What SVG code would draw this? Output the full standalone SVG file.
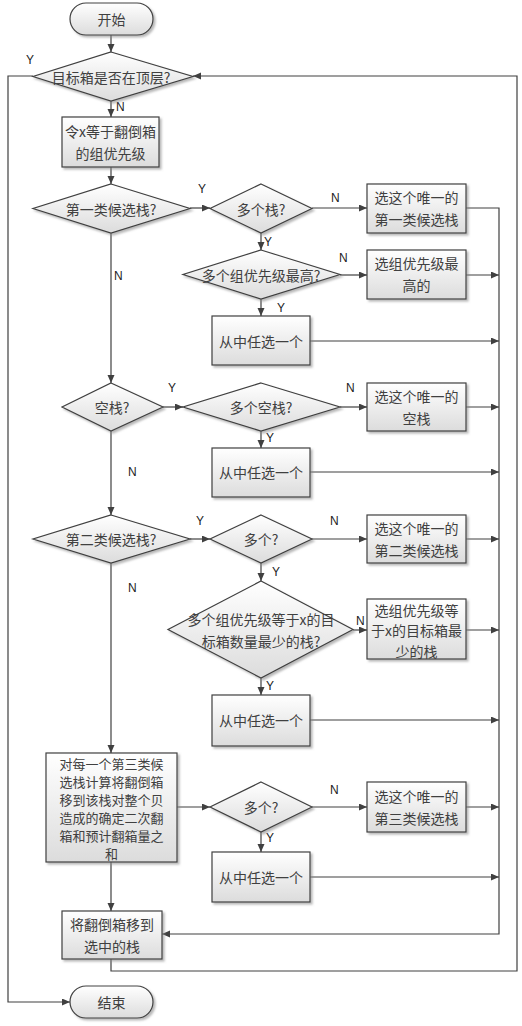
<svg xmlns="http://www.w3.org/2000/svg" width="522" height="1026" viewBox="0 0 522 1026">
<style>
.n{fill:url(#g);stroke:#404040;stroke-width:1.2;filter:url(#sh)}
.t{font-family:"Noto Sans CJK SC","Noto Sans CJK JP",sans-serif;font-size:14px;fill:#404040;text-anchor:middle;dominant-baseline:central}
.s{font-size:13px}
.c{fill:none;stroke:#404040;stroke-width:1.2}
.l{font-family:"Liberation Sans",Arial,sans-serif;font-size:12px;fill:#222}
</style>
<defs>
<linearGradient id="g" x1="0" y1="0" x2="0" y2="1"><stop offset="0" stop-color="#ffffff"/><stop offset="1" stop-color="#dcdcdc"/></linearGradient>
<filter id="sh" x="-10%" y="-10%" width="130%" height="130%"><feDropShadow dx="2" dy="2" stdDeviation="1" flood-color="#888" flood-opacity="0.6"/></filter>
<marker id="a" markerUnits="userSpaceOnUse" markerWidth="9" markerHeight="8" refX="8" refY="3.5" orient="auto"><path d="M0,0 L8,3.5 L0,7 z" fill="#404040"/></marker>
</defs>
<rect width="522" height="1026" fill="#fff"/>
<g id="connectors">
<path class="c" marker-end="url(#a)" d="M111,35 V52"/>
<path class="c" marker-end="url(#a)" d="M111,101 V117"/>
<path class="c" marker-end="url(#a)" d="M33,76 H8 V1002 H70"/>
<path class="c" marker-end="url(#a)" d="M111,959 V971 H517 V76 H193"/>
<path class="c" marker-end="url(#a)" d="M111,167 V184"/>
<path class="c" marker-end="url(#a)" d="M190,208 H210"/>
<path class="c" marker-end="url(#a)" d="M312,208 H367"/>
<path class="c" marker-end="url(#a)" d="M466,208 H499 V934 H162"/>
<path class="c" marker-end="url(#a)" d="M261,233 V250"/>
<path class="c" marker-end="url(#a)" d="M340,275 H367"/>
<path class="c" marker-end="url(#a)" d="M466,275 H499"/>
<path class="c" marker-end="url(#a)" d="M261,299 V316"/>
<path class="c" marker-end="url(#a)" d="M310,341 H499"/>
<path class="c" marker-end="url(#a)" d="M111,233 V383"/>
<path class="c" marker-end="url(#a)" d="M163,407 H183"/>
<path class="c" marker-end="url(#a)" d="M340,407 H367"/>
<path class="c" marker-end="url(#a)" d="M466,407 H499"/>
<path class="c" marker-end="url(#a)" d="M261,431 V448"/>
<path class="c" marker-end="url(#a)" d="M310,472 H499"/>
<path class="c" marker-end="url(#a)" d="M111,431 V515"/>
<path class="c" marker-end="url(#a)" d="M190,539 H210"/>
<path class="c" marker-end="url(#a)" d="M312,539 H367"/>
<path class="c" marker-end="url(#a)" d="M466,539 H499"/>
<path class="c" marker-end="url(#a)" d="M261,563 V581"/>
<path class="c" marker-end="url(#a)" d="M353,630 H367"/>
<path class="c" marker-end="url(#a)" d="M466,630 H499"/>
<path class="c" marker-end="url(#a)" d="M261,678 V695"/>
<path class="c" marker-end="url(#a)" d="M310,720 H499"/>
<path class="c" marker-end="url(#a)" d="M111,563 V753"/>
<path class="c" marker-end="url(#a)" d="M177,807 H210"/>
<path class="c" marker-end="url(#a)" d="M312,807 H367"/>
<path class="c" marker-end="url(#a)" d="M466,807 H499"/>
<path class="c" marker-end="url(#a)" d="M261,832 V852"/>
<path class="c" marker-end="url(#a)" d="M310,877 H499"/>
<path class="c" marker-end="url(#a)" d="M111,862 V911"/>
<text class="l" x="26" y="64">Y</text>
<text class="l" x="116" y="111">N</text>
<text class="l" x="198" y="193">Y</text>
<text class="l" x="331" y="202">N</text>
<text class="l" x="264" y="246">Y</text>
<text class="l" x="339" y="262">N</text>
<text class="l" x="277" y="312">Y</text>
<text class="l" x="114" y="280">N</text>
<text class="l" x="168" y="392">Y</text>
<text class="l" x="346" y="392">N</text>
<text class="l" x="266" y="442">Y</text>
<text class="l" x="128" y="476">N</text>
<text class="l" x="196" y="525">Y</text>
<text class="l" x="330" y="525">N</text>
<text class="l" x="272" y="576">Y</text>
<text class="l" x="356" y="625">N</text>
<text class="l" x="266" y="690">Y</text>
<text class="l" x="128" y="592">N</text>
<text class="l" x="330" y="794">N</text>
<text class="l" x="266" y="842">Y</text>
</g>
<g id="start"><rect class="n" x="70" y="3" width="83" height="32" rx="16"/><text class="t" x="111.5" y="19">开始</text></g>
<g id="d-top"><polygon class="n" points="111,52 193,76.5 111,101 33,76.5"/><text class="t" x="111" y="76.5">目标箱是否在顶层?</text></g>
<g id="b-x"><rect class="n" x="62" y="117" width="97" height="50"/><text class="t" x="110.5" y="131">令x等于翻倒箱</text><text class="t" x="110.5" y="153">的组优先级</text></g>
<g id="d-c1"><polygon class="n" points="111,184 190,208.5 111,233 33,208.5"/><text class="t" x="111" y="208.5">第一类候选栈?</text></g>
<g id="d-multi1"><polygon class="n" points="261,184 312,208.5 261,233 210,208.5"/><text class="t" x="261" y="208.5">多个栈?</text></g>
<g id="b-only1"><rect class="n" x="367" y="184" width="99" height="49"/><text class="t" x="416.5" y="197">选这个唯一的</text><text class="t" x="416.5" y="219">第一类候选栈</text></g>
<g id="d-prio"><polygon class="n" points="261,250 340,274.5 261,299 183,274.5"/><text class="t" x="261" y="274.5">多个组优先级最高?</text></g>
<g id="b-prio"><rect class="n" x="367" y="250" width="99" height="49"/><text class="t" x="416.5" y="263">选组优先级最</text><text class="t" x="416.5" y="285">高的</text></g>
<g id="b-any1"><rect class="n" x="212" y="316" width="98" height="49"/><text class="t" x="261" y="341">从中任选一个</text></g>
<g id="d-empty"><polygon class="n" points="111,383 163,407 111,431 62,407"/><text class="t" x="112" y="407">空栈?</text></g>
<g id="d-multiempty"><polygon class="n" points="261,383 340,407 261,431 183,407"/><text class="t" x="261" y="407">多个空栈?</text></g>
<g id="b-onlyempty"><rect class="n" x="367" y="383" width="99" height="48"/><text class="t" x="416.5" y="396">选这个唯一的</text><text class="t" x="416.5" y="418">空栈</text></g>
<g id="b-any2"><rect class="n" x="212" y="448" width="98" height="49"/><text class="t" x="261" y="472">从中任选一个</text></g>
<g id="d-c2"><polygon class="n" points="111,515 190,539 111,563 33,539"/><text class="t" x="111" y="539">第二类候选栈?</text></g>
<g id="d-multi2"><polygon class="n" points="261,515 312,539 261,563 210,539"/><text class="t" x="261" y="539">多个?</text></g>
<g id="b-only2"><rect class="n" x="367" y="515" width="99" height="48"/><text class="t" x="416.5" y="528">选这个唯一的</text><text class="t" x="416.5" y="550">第二类候选栈</text></g>
<g id="d-least"><polygon class="n" points="261,581 353,629.5 261,678 168,629.5"/><text class="t" x="261" y="619">多个组优先级等于x的目</text><text class="t" x="261" y="641">标箱数量最少的栈?</text></g>
<g id="b-least"><rect class="n" x="367" y="599" width="99" height="60"/><text class="t" x="416.5" y="609.5">选组优先级等</text><text class="t" x="416.5" y="630">于x的目标箱最</text><text class="t" x="416.5" y="650.5">少的栈</text></g>
<g id="b-any3"><rect class="n" x="212" y="695" width="98" height="51"/><text class="t" x="261" y="720">从中任选一个</text></g>
<g id="b-calc"><rect class="n" x="46" y="753" width="131" height="109"/><text class="t s" x="111.5" y="763">对每一个第三类候</text><text class="t s" x="111.5" y="781">选栈计算将翻倒箱</text><text class="t s" x="111.5" y="799">移到该栈对整个贝</text><text class="t s" x="111.5" y="817">造成的确定二次翻</text><text class="t s" x="111.5" y="835">箱和预计翻箱量之</text><text class="t s" x="111.5" y="853">和</text></g>
<g id="d-multi3"><polygon class="n" points="261,782 312,807 261,832 210,807"/><text class="t" x="261" y="807">多个?</text></g>
<g id="b-only3"><rect class="n" x="367" y="782" width="99" height="50"/><text class="t" x="416.5" y="796">选这个唯一的</text><text class="t" x="416.5" y="818">第三类候选栈</text></g>
<g id="b-any4"><rect class="n" x="212" y="852" width="98" height="50"/><text class="t" x="261" y="877">从中任选一个</text></g>
<g id="b-move"><rect class="n" x="62" y="911" width="100" height="48"/><text class="t" x="112" y="924">将翻倒箱移到</text><text class="t" x="112" y="946">选中的栈</text></g>
<g id="end"><rect class="n" x="70" y="986" width="83" height="32" rx="16"/><text class="t" x="111.5" y="1002">结束</text></g>
</svg>
